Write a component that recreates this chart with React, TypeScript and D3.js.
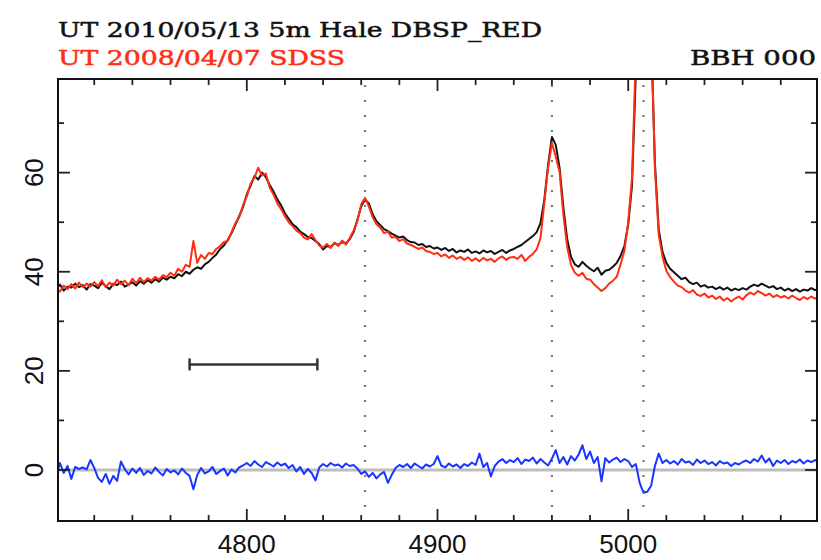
import React from "react";
import * as d3 from "d3";

// Wavelength grid (Angstrom)
const WAVE_START = 4700;
const WAVE_STEP = 2;

// Black: UT 2010/05/13 5m Hale DBSP_RED
const blackFlux: number[] = [
  36.5, 37.4, 36.2, 37.0, 36.8, 37.6, 36.9, 37.3, 36.4, 37.5,
  37.2, 36.7, 37.8, 37.1, 36.5, 37.6, 37.3, 38.0, 37.0, 37.4,
  37.9, 37.2, 38.1, 37.6, 38.3, 37.8, 38.5, 38.0, 38.8, 38.4,
  39.0, 38.7, 39.5, 39.1, 40.0, 39.6, 40.4, 40.9, 40.6, 41.5,
  42.0, 42.8, 43.5, 44.6, 45.3, 46.4, 47.8, 49.5, 51.2, 53.0,
  55.6, 57.4, 59.3, 58.6, 60.0, 59.1, 57.5, 56.2, 54.6, 53.4,
  51.8, 50.7, 49.6, 49.0, 48.1, 47.6, 47.0, 46.8, 46.2, 45.6,
  44.5, 45.2, 45.0, 45.8, 45.4, 46.0, 45.7, 46.6, 48.0, 50.5,
  53.2, 54.6, 53.8, 51.6, 50.2, 49.4, 48.6, 48.2, 47.7, 47.3,
  46.9, 47.1, 46.4, 46.0, 45.9, 45.4, 45.6, 45.0, 45.2, 44.7,
  44.9, 44.4, 44.8, 44.2, 44.6, 43.9, 44.3, 44.0, 44.5, 43.8,
  44.1, 43.7, 44.3, 43.9, 44.2, 43.6, 44.0, 44.4, 43.8, 44.3,
  44.6, 45.0, 45.4, 46.0, 46.6, 47.2, 48.0, 49.8, 54.5, 61.5,
  67.2, 65.6, 61.0, 53.0, 46.6, 43.0, 41.5, 41.0, 42.0, 41.2,
  40.6, 40.1, 40.8, 39.4, 40.2, 40.4, 41.0, 41.8, 43.2, 45.2,
  49.5, 57.5, 80.0, 115, 140, 130, 88, 62.0, 48.5, 44.0,
  41.8, 40.6, 39.9, 39.2, 38.5, 38.8, 37.9, 37.5, 37.8, 37.0,
  37.3, 36.8, 37.0, 36.5, 36.9, 36.4, 36.8, 36.2, 36.6, 36.3,
  36.7, 36.4, 37.0, 37.4, 37.1, 37.6, 37.2, 36.8, 37.1, 36.5,
  36.8, 36.2, 36.6, 36.1, 36.5, 36.0, 36.4, 36.2, 36.7, 36.3,
  36.6,
];

// Red: UT 2008/04/07 SDSS
const redFlux: number[] = [
  36.8, 36.0, 37.2, 36.5, 37.5, 36.6, 37.8, 36.9, 37.6, 37.0,
  37.9, 37.1, 38.3, 36.9, 37.8, 37.2, 38.4, 37.5, 38.2, 37.3,
  38.6, 37.7, 38.8, 37.9, 38.7, 38.2, 39.0, 38.4, 39.3, 38.9,
  39.8, 39.2, 40.6, 40.0, 41.4, 41.0, 46.2, 41.8, 43.4, 42.6,
  43.8, 43.6, 44.6, 45.2, 46.0, 46.2, 48.0, 49.8, 51.0, 53.4,
  55.2, 57.8, 59.0, 61.0, 59.4, 59.8, 57.0, 55.6, 53.8, 52.6,
  51.2, 50.0, 49.2, 48.3, 47.8, 46.9, 46.5, 47.6, 46.4, 45.3,
  44.9, 45.6, 44.8, 45.9, 45.2, 46.3, 45.5, 46.8, 48.3, 50.2,
  53.6, 54.9, 53.2, 51.0, 49.6, 48.9, 47.8, 48.1, 46.9, 47.0,
  46.2, 46.6, 45.7, 45.4, 45.0, 44.6, 44.9, 44.2, 44.0, 43.6,
  43.8, 43.1, 43.5, 42.8, 43.3, 42.6, 43.0, 42.4, 42.9, 42.2,
  42.7, 42.1, 42.8, 42.3, 42.6, 42.0, 42.7, 43.1, 42.4, 42.9,
  43.0, 42.6, 43.4, 42.2, 43.0, 43.6, 44.5, 46.8, 53.8, 61.0,
  66.0, 63.2, 60.2, 51.6, 45.0, 41.4, 39.8, 39.2, 39.8, 38.6,
  38.4, 37.5, 36.8, 36.1, 36.7, 37.6, 38.2, 39.0, 41.5, 44.2,
  50.0, 59.0, 84.0, 120, 145, 132, 90, 61.0, 47.5, 43.0,
  40.2, 38.9, 38.0, 37.2, 36.9, 36.2, 35.8, 36.3, 35.4, 35.1,
  35.6, 34.8, 35.2, 34.5, 35.0, 34.2, 34.7, 34.0, 34.6, 35.0,
  34.4, 35.3, 35.8, 35.4, 36.1, 35.7, 35.2, 35.6, 34.9, 35.3,
  34.8, 35.1, 34.6, 35.2, 34.7, 34.3, 34.9, 34.5, 35.0, 34.6,
  34.8,
];

// Blue: residual
const residFlux: number[] = [
  -1.2, 1.4, -0.6, 0.8, -1.8, 0.6, 0.2, 0.5, 0.1, 2.0,
  0.4, -1.6, -2.4, -0.8, -2.8, -1.2, -2.2, 1.7, 0.2, -0.9,
  0.3, -0.6, 0.4, -1.0, -0.2, -0.7, 0.5, -0.4, -1.1, 0.2,
  -0.5, -0.1, -0.9, 0.3, -0.6, -1.2, -3.9, -1.0, 0.4, -0.7,
  -0.3, 0.6, -0.8, -0.2, 0.3, -1.1, 0.1, -0.5, 0.5, 0.9,
  1.4, 0.8, 1.8, 1.1, 0.6, 1.6, 1.2, 0.7, 1.5, 0.9,
  1.3, 0.4, 1.0, -0.3, 0.6, -0.8, 0.2, -0.6, -2.1, 0.5,
  1.2, 0.7, 1.4, 0.9, 1.1, 0.5, 1.3, 0.8, 1.0, 0.3,
  -0.8, -0.3, -1.4, -0.6, -1.7, -0.9, -0.4, -2.6, -1.0, 0.4,
  1.0, 0.6, 1.2, 0.4, 1.3, 0.8, 0.3, 1.1, 0.7, 1.2,
  2.8, 0.9, 0.5, 1.3, 0.7, 1.1, 0.4, 1.2, 0.8, 1.5,
  1.0, 3.3, 0.6, 1.4, -1.3, 0.8, 1.7, 2.2, 1.4, 2.0,
  1.6, 2.4, 1.2, 2.1, 1.8, 2.5, 1.3, 2.2, 1.5, 0.9,
  2.3, 4.0, 1.4, 2.6, 1.1, 2.8, 1.9, 3.1, 5.0, 2.2,
  3.7, 1.4, 2.6, -2.3, 2.4, 1.5, 2.1, 2.5, 1.6, 2.2,
  1.8, 0.6, 1.2, -2.6, -4.6, -4.4, -3.2, 0.8, 3.3, 1.4,
  2.0, 1.3, 1.8, 1.1, 2.2, 1.5, 1.7, 1.0, 2.1, 1.4,
  1.9, 1.2, 1.6, 0.9, 1.8, 1.3, 1.5, 0.8, 1.4, 1.1,
  1.6, 1.9, 1.4, 2.2, 1.7, 2.9, 1.5, 2.3, 0.8, 1.9,
  1.4, 2.0, 1.2, 1.8, 1.5, 2.1, 1.3, 1.9, 1.6, 2.0,
  1.7,
];

const lineMarkers: number[] = [4862, 4960, 5008];
const xMajorTicks: number[] = [4800, 4900, 5000];
const xMinorTicks: number[] = [4720, 4740, 4760, 4780, 4820, 4840, 4860, 4880, 4920, 4940, 4960, 4980, 5020, 5040, 5060, 5080];
const yMajorTicks: number[] = [0, 20, 40, 60];
const yMinorTicks: number[] = [10, 30, 50, 70];
const errorBar = { x0: 4770, x1: 4837, y: 21.3 };
const titleBlack = "UT 2010/05/13 5m Hale DBSP_RED";
const titleRed = "UT 2008/04/07 SDSS";
const objectName = "BBH 000";

const W = 821;
const H = 560;
const L = 58, R = 817, T = 79, B = 521;

export default function App() {
  const x = d3.scaleLinear().domain([4701, 5099]).range([L, R]);
  const y = d3.scaleLinear().domain([-10.3, 78.9]).range([B, T]);
  const wave = (i: number) => WAVE_START + i * WAVE_STEP;
  const line = d3
    .line<number>()
    .x((_, i) => x(wave(i)))
    .y((d) => y(d));

  const tickFont = "'Liberation Sans', Arial, sans-serif";
  const titleFont = "'DejaVu Serif', 'Liberation Serif', serif";

  return (
    <svg
      width={W}
      height={H}
      viewBox={`0 0 ${W} ${H}`}
      style={{ position: "absolute", left: 0, top: 0, background: "#fff" }}
    >
      <defs>
        <clipPath id="plotclip">
          <rect x={L} y={T} width={R - L} height={B - T} />
        </clipPath>
      </defs>
      <rect x={0} y={0} width={W} height={H} fill="#fff" />

      {/* titles */}
      <text x={58} y={37} fontFamily={titleFont} fontSize={21} fill="#111" stroke="#111" strokeWidth={0.5} textLength={484} lengthAdjust="spacingAndGlyphs">
        {titleBlack}
      </text>
      <text x={58} y={65} fontFamily={titleFont} fontSize={21} fill="#ff2d14" stroke="#ff2d14" strokeWidth={0.5} textLength={287} lengthAdjust="spacingAndGlyphs">
        {titleRed}
      </text>
      <text x={816} y={65} fontFamily={titleFont} fontSize={21} fill="#111" stroke="#111" strokeWidth={0.5} textAnchor="end" textLength={126} lengthAdjust="spacingAndGlyphs">
        {objectName}
      </text>

      <g clipPath="url(#plotclip)">
        {/* dotted rest-frame line markers */}
        {lineMarkers.map((w) => (
          <line key={w} x1={x(w)} x2={x(w)} y1={T} y2={B} stroke="#777" strokeWidth={2.2} strokeDasharray="2 13" strokeDashoffset={-6} />
        ))}
        {/* zero line */}
        <line x1={L} x2={R} y1={y(0)} y2={y(0)} stroke="#bdbdbd" strokeWidth={3} />
        <path d={line(blackFlux) || ""} fill="none" stroke="#111" strokeWidth={2} strokeLinejoin="round" />
        <path d={line(redFlux) || ""} fill="none" stroke="#ff2d14" strokeWidth={2} strokeLinejoin="round" />
        <path d={line(residFlux) || ""} fill="none" stroke="#1836ff" strokeWidth={2} strokeLinejoin="round" />
        {/* error bar */}
        <line x1={x(errorBar.x0)} x2={x(errorBar.x1)} y1={y(errorBar.y)} y2={y(errorBar.y)} stroke="#333" strokeWidth={2.5} />
        <line x1={x(errorBar.x0)} x2={x(errorBar.x0)} y1={y(errorBar.y) - 6} y2={y(errorBar.y) + 6} stroke="#333" strokeWidth={2.5} />
        <line x1={x(errorBar.x1)} x2={x(errorBar.x1)} y1={y(errorBar.y) - 6} y2={y(errorBar.y) + 6} stroke="#333" strokeWidth={2.5} />
      </g>

      {/* ticks */}
      <g stroke="#222" strokeWidth={1.8}>
        {xMajorTicks.map((t) => (
          <g key={"xM" + t}>
            <line x1={x(t)} x2={x(t)} y1={B} y2={B - 12} />
            <line x1={x(t)} x2={x(t)} y1={T} y2={T + 12} />
          </g>
        ))}
        {xMinorTicks.map((t) => (
          <g key={"xm" + t}>
            <line x1={x(t)} x2={x(t)} y1={B} y2={B - 6} />
            <line x1={x(t)} x2={x(t)} y1={T} y2={T + 6} />
          </g>
        ))}
        {yMajorTicks.map((t) => (
          <g key={"yM" + t}>
            <line x1={L} x2={L + 12} y1={y(t)} y2={y(t)} />
            <line x1={R} x2={R - 12} y1={y(t)} y2={y(t)} />
          </g>
        ))}
        {yMinorTicks.map((t) => (
          <g key={"ym" + t}>
            <line x1={L} x2={L + 6} y1={y(t)} y2={y(t)} />
            <line x1={R} x2={R - 6} y1={y(t)} y2={y(t)} />
          </g>
        ))}
      </g>

      {/* frame */}
      <rect x={L} y={T} width={R - L} height={B - T} fill="none" stroke="#111" strokeWidth={2} />

      {/* tick labels */}
      {xMajorTicks.map((t) => (
        <text key={"xl" + t} x={x(t)} y={553} textAnchor="middle" fontFamily={tickFont} fontSize={26} fill="#111">
          {t}
        </text>
      ))}
      {yMajorTicks.map((t) => (
        <text
          key={"yl" + t}
          transform={`translate(43,${y(t)}) rotate(-90)`}
          textAnchor="middle"
          fontFamily={tickFont}
          fontSize={26}
          fill="#111"
        >
          {t}
        </text>
      ))}
    </svg>
  );
}
